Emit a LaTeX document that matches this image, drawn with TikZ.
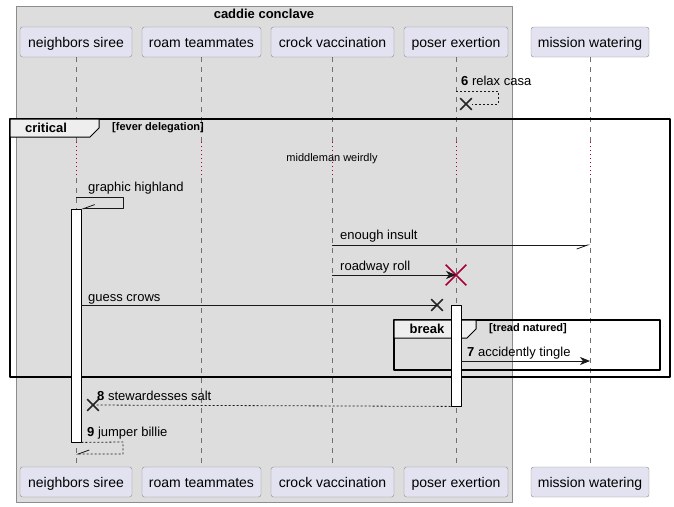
\documentclass[tikz,border=0pt]{standalone}
\usepackage{fontspec}
\setmainfont{Liberation Sans}
\usetikzlibrary{arrows.meta,shapes.misc}
\definecolor{partfill}{HTML}{E2E2F0}
\definecolor{partline}{HTML}{8C8C8C}
\definecolor{boxfill}{HTML}{DDDDDD}
\definecolor{boxline}{HTML}{8C8C8C}
\definecolor{lifecol}{HTML}{6F6F6F}
\definecolor{crimson}{HTML}{A80036}
\definecolor{tabfill}{HTML}{EEEEEE}
\begin{document}
\begin{tikzpicture}[>={Stealth[length=10bp,width=8bp,inset=3bp]},line join=bevel,
  part/.style={draw=partline,fill=partfill,rounded corners=2.5bp,minimum height=30bp,inner sep=0pt,text height=12bp,text depth=2bp,font=\fontsize{14bp}{16bp}\selectfont},
  msg/.style={anchor=west,inner sep=0pt,text height=11bp,text depth=3bp,font=\fontsize{13bp}{15bp}\selectfont},
  life/.style={draw=lifecol,dash pattern=on 5bp off 5bp,line width=0.6bp},
  delay/.style={draw=crimson,dash pattern=on 1bp off 3bp,line width=0.8bp},
  call/.style={draw=black!90,line width=0.8bp},
  reply/.style={call,dash pattern=on 2bp off 2bp},
  half/.style={-{Straight Barb[harpoon,swap,length=11bp,width=8bp]}},
  lost/.style={cross out,draw=black!85,line width=1.6bp,minimum size=10bp,inner sep=0pt},
  kill/.style={cross out,draw=crimson,line width=1.6bp,minimum size=19bp,inner sep=0pt},
  frame/.style={draw=black,line width=1.4bp},
  tab/.style={draw=black,fill=tabfill,line width=1bp},
  actbar/.style={draw=black,fill=white,line width=0.8bp,inner sep=0pt,minimum width=10bp},
]
\useasboundingbox (0bp,0bp) rectangle (674bp,-507bp);
%% box
\draw [draw=boxline,fill=boxfill] (16bp,-6bp) rectangle (512bp,-502bp);
\node (box_title) at (264bp,-14bp) [font=\fontsize{13bp}{15bp}\selectfont\bfseries] {caddie conclave};
%% participants
\node (siree_top) at (76bp,-42bp) [part,minimum width=112bp] {neighbors siree};
  \node (roam_top) at (201.5bp,-42bp) [part,minimum width=119bp] {roam teammates};
  \node (crock_top) at (332.5bp,-42bp) [part,minimum width=123bp] {crock vaccination};
  \node (poser_top) at (456bp,-42bp) [part,minimum width=104bp] {poser exertion};
  \node (mission_top) at (590bp,-42bp) [part,minimum width=118bp] {mission watering};
\node (siree_bot) at (76bp,-482bp) [part,minimum width=112bp] {neighbors siree};
  \node (roam_bot) at (201.5bp,-482bp) [part,minimum width=119bp] {roam teammates};
  \node (crock_bot) at (332.5bp,-482bp) [part,minimum width=123bp] {crock vaccination};
  \node (poser_bot) at (456bp,-482bp) [part,minimum width=104bp] {poser exertion};
  \node (mission_bot) at (590bp,-482bp) [part,minimum width=118bp] {mission watering};
%% lifelines
\coordinate (dl_siree_a) at (76bp,-142bp);
  \coordinate (dl_siree_b) at (76bp,-178bp);
  \coordinate (dl_roam_a) at (201bp,-142bp);
  \coordinate (dl_roam_b) at (201bp,-178bp);
  \coordinate (dl_crock_a) at (332bp,-142bp);
  \coordinate (dl_crock_b) at (332bp,-178bp);
  \coordinate (dl_poser_a) at (456bp,-142bp);
  \coordinate (dl_poser_b) at (456bp,-178bp);
  \coordinate (dl_mission_a) at (590bp,-142bp);
  \coordinate (dl_mission_b) at (590bp,-178bp);
\draw [life] (siree_top.south) -- (dl_siree_a);
  \draw [delay] (dl_siree_a) -- (dl_siree_b);
  \draw [life] (dl_siree_b) -- (siree_bot.north);
\draw [life] (roam_top.south -| dl_roam_a) -- (dl_roam_a);
  \draw [delay] (dl_roam_a) -- (dl_roam_b);
  \draw [life] (dl_roam_b) -- (roam_bot.north -| dl_roam_b);
\draw [life] (crock_top.south -| dl_crock_a) -- (dl_crock_a);
  \draw [delay] (dl_crock_a) -- (dl_crock_b);
  \draw [life] (dl_crock_b) -- (crock_bot.north -| dl_crock_b);
\draw [life] (poser_top.south) -- (dl_poser_a);
  \draw [delay] (dl_poser_a) -- (dl_poser_b);
  \draw [life] (dl_poser_b) -- (poser_bot.north);
\draw [life] (mission_top.south) -- (dl_mission_a);
  \draw [delay] (dl_mission_a) -- (dl_mission_b);
  \draw [life] (dl_mission_b) -- (mission_bot.north);
%% frames
\draw [frame] (10bp,-119bp) rectangle (670bp,-377bp);
\draw [tab] (10bp,-119bp) -- (99bp,-119bp) -- (99bp,-128bp) -- (90bp,-137bp) -- (10bp,-137bp) -- cycle;
\node (crit_kw) at (46bp,-128bp) [font=\fontsize{13bp}{15bp}\selectfont\bfseries] {critical};
\node (crit_guard) at (112bp,-128bp) [anchor=west,inner sep=0pt,font=\fontsize{11bp}{13bp}\selectfont\bfseries] {[fever delegation]};
\draw [frame] (394bp,-320bp) rectangle (660bp,-370bp);
\draw [tab] (394bp,-320bp) -- (476bp,-320bp) -- (476bp,-329bp) -- (467bp,-338bp) -- (394bp,-338bp) -- cycle;
\node (brk_kw) at (427bp,-329bp) [font=\fontsize{13bp}{15bp}\selectfont\bfseries] {break};
\node (brk_guard) at (489bp,-329bp) [anchor=west,inner sep=0pt,font=\fontsize{11bp}{13bp}\selectfont\bfseries] {[tread natured]};
%% delay text
\node (delay_txt) at (332bp,-159bp) [font=\fontsize{11bp}{13bp}\selectfont] {middleman weirdly};
%% activations
\node (act_siree) at (76bp,-325.5bp) [actbar,minimum height=233bp] {};
\node (act_poser) at (456bp,-355.5bp) [actbar,minimum height=101bp] {};
%% messages
\coordinate (rc_a) at (456bp,-91bp);
\node (rc_x) at (466bp,-104bp) [lost] {};
\draw [reply] (rc_a) -- (498bp,-91bp) |- (rc_x);
\node (rc_lbl) at (461bp,-81bp) [msg] {\textbf{6} relax casa};
%
\coordinate (gh_a) at (76bp,-197bp);
\draw [call,half] (gh_a) -- (123bp,-197bp) |- (act_siree.north east);
\node (gh_lbl) at (88bp,-187bp) [msg] {graphic highland};
%
\coordinate (ei_a) at (332bp,-245bp);
\coordinate (ei_b) at (590bp,-245bp);
\draw [call,half] (ei_a) -- (ei_b);
\node (ei_lbl) at (340bp,-235bp) [msg] {enough insult};
%
\coordinate (rr_a) at (332bp,-275bp);
\node (rr_x) at (456bp,-275bp) [kill] {};
\draw [call,->] (rr_a) -- (rr_x.center);
\node (rr_lbl) at (340bp,-266bp) [msg] {roadway roll};
%
\coordinate (gc_a) at (81bp,-305bp);
\node (gc_x) at (437bp,-305bp) [lost] {};
\draw [call] (gc_a) -- (gc_x.center);
\node (gc_lbl) at (88bp,-297bp) [msg] {guess crows};
%
\coordinate (at_a) at (461bp,-361bp);
\coordinate (at_b) at (590bp,-361bp);
\draw [call,->] (at_a) -- (at_b);
\node (at_lbl) at (467bp,-352bp) [msg] {\textbf{7} accidently tingle};
%
\node (ss_x) at (93bp,-405bp) [lost] {};
\draw [reply] (act_poser.south west) -- (ss_x.center);
\node (ss_lbl) at (97bp,-396bp) [msg] {\textbf{8} stewardesses salt};
%
\coordinate (jb_b) at (76bp,-454bp);
\draw [reply,half] (act_siree.south east) -- (123bp,-442bp) |- (jb_b);
\node (jb_lbl) at (87bp,-432bp) [msg] {\textbf{9} jumper billie};
%
\end{tikzpicture}
\end{document}
